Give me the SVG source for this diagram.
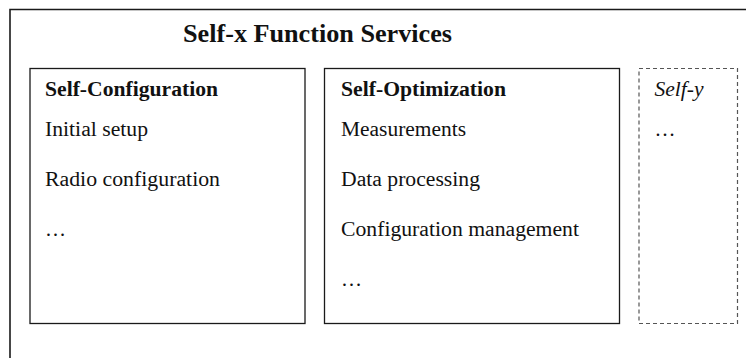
<svg xmlns="http://www.w3.org/2000/svg" width="746" height="358" viewBox="0 0 746 358">
<style>
.frame{fill:none;stroke:#1a1a1a;stroke-width:1.6}
.box{fill:#ffffff;stroke:#1a1a1a;stroke-width:1.3}
.dbox{fill:#ffffff;stroke:#555555;stroke-width:1.2;stroke-dasharray:4 3}
text{font-family:"Liberation Serif","Times New Roman",serif;fill:#111111}
.title{font-size:26px;font-weight:bold}
.head{font-size:20px;font-weight:bold}
.item{font-size:20px}
.ital{font-size:20px;font-style:italic}
</style>
<g id="outer">
<path class="frame" d="M10,360 L10,9.5 L750,9.5"/>
<text class="title" x="183" y="42" textLength="269" lengthAdjust="spacingAndGlyphs">Self-x Function Services</text>
</g>
<g id="self-configuration">
<rect class="box" x="30" y="68.5" width="275" height="255"/>
<text class="head" x="45" y="96" textLength="173" lengthAdjust="spacingAndGlyphs">Self-Configuration</text>
<text class="item" x="45" y="136" textLength="103" lengthAdjust="spacingAndGlyphs">Initial setup</text>
<text class="item" x="45" y="186" textLength="175" lengthAdjust="spacingAndGlyphs">Radio configuration</text>
<text class="item" x="45" y="236" textLength="21" lengthAdjust="spacingAndGlyphs">…</text>
</g>
<g id="self-optimization">
<rect class="box" x="324.5" y="68.5" width="295" height="255"/>
<text class="head" x="341" y="96" textLength="165" lengthAdjust="spacingAndGlyphs">Self-Optimization</text>
<text class="item" x="341" y="136" textLength="125" lengthAdjust="spacingAndGlyphs">Measurements</text>
<text class="item" x="341" y="186" textLength="139" lengthAdjust="spacingAndGlyphs">Data processing</text>
<text class="item" x="341" y="236" textLength="238" lengthAdjust="spacingAndGlyphs">Configuration management</text>
<text class="item" x="341" y="286" textLength="21" lengthAdjust="spacingAndGlyphs">…</text>
</g>
<g id="self-y">
<rect class="dbox" x="639" y="68.5" width="98.5" height="255"/>
<text class="ital" x="654.5" y="96" textLength="49" lengthAdjust="spacingAndGlyphs">Self-y</text>
<text class="item" x="654.5" y="136" textLength="21" lengthAdjust="spacingAndGlyphs">…</text>
</g>
<g id="connectors"/>
</svg>
